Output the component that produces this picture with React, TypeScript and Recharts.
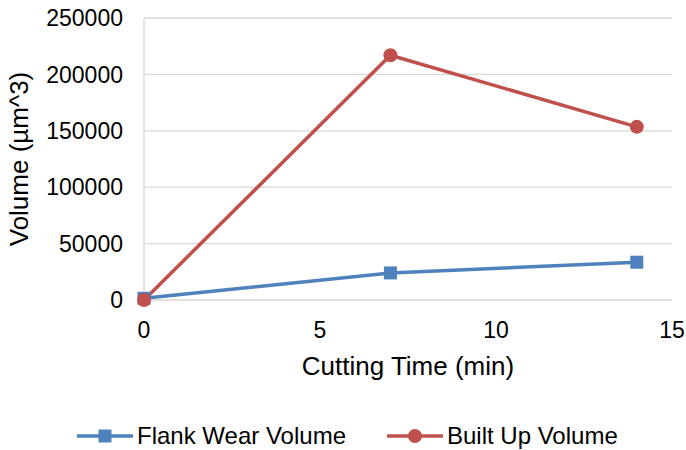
import React from "react"
import {
  CartesianGrid,
  Legend,
  Line,
  LineChart,
  XAxis,
  YAxis,
} from "recharts"

const cuttingTime = [0, 7, 14]
const flankWear = [1500, 24000, 33500]
const builtUp = [0, 217000, 153500]
const xTicks = [0, 5, 10, 15]
const yTicks = [0, 50000, 100000, 150000, 200000, 250000]

const BLUE = "#4F81BD"
const RED = "#C0504D"
const FONT = "'Liberation Sans', Arial, sans-serif"

const data = cuttingTime.map((t, i) => ({
  time: t,
  flank: flankWear[i],
  built: builtUp[i],
}))

const SquareDot = (props: any) => {
  const { cx, cy, key } = props
  if (cx == null || cy == null) return null
  return <rect key={key} x={cx - 6.5} y={cy - 6.5} width={13} height={13} fill={BLUE} />
}

const CircleDot = (props: any) => {
  const { cx, cy, key } = props
  if (cx == null || cy == null) return null
  return <circle key={key} cx={cx} cy={cy} r={7} fill={RED} />
}

function LegendItem({ color, label, square }: { color: string; label: string; square: boolean }) {
  return (
    <div style={{ display: "flex", alignItems: "center" }}>
      <svg width={56} height={16} style={{ marginRight: 4 }}>
        <line x1={0} y1={8} x2={56} y2={8} stroke={color} strokeWidth={3.5} />
        {square ? (
          <rect x={21.5} y={1.5} width={13} height={13} fill={color} />
        ) : (
          <circle cx={28} cy={8} r={7} fill={color} />
        )}
      </svg>
      <span>{label}</span>
    </div>
  )
}

const renderLegend = () => (
  <div
    style={{
      display: "flex",
      gap: 41,
      paddingLeft: 77,
      paddingTop: 42,
      fontFamily: FONT,
      fontSize: 24,
      color: "#000",
      lineHeight: "28px",
    }}
  >
    <LegendItem color={BLUE} label="Flank Wear Volume" square />
    <LegendItem color={RED} label="Built Up Volume" square={false} />
  </div>
)

export default function App() {
  return (
    <div style={{ position: "absolute", left: 0, top: 0, background: "#fff" }}>
      <LineChart
        width={686}
        height={450}
        data={data}
        margin={{ top: 18, right: 14, left: 0, bottom: 0 }}
      >
        <CartesianGrid vertical={false} stroke="#D9D9D9" strokeWidth={1.3} />
        <XAxis
          dataKey="time"
          type="number"
          domain={[0, 15]}
          ticks={xTicks}
          axisLine={false}
          tickLine={false}
          tickSize={0}
          tickMargin={22}
          height={80}
          tick={{ fill: "#000", fontSize: 23, fontFamily: FONT }}
          label={{
            value: "Cutting Time (min)",
            position: "insideBottom",
            offset: 5,
            fill: "#000",
            fontSize: 26,
            fontFamily: FONT,
          }}
        />
        <YAxis
          type="number"
          domain={[0, 250000]}
          ticks={yTicks}
          width={144}
          axisLine={{ stroke: "#D9D9D9", strokeWidth: 1.3 }}
          tickLine={false}
          tickSize={0}
          tickMargin={21}
          tick={{ fill: "#000", fontSize: 23, fontFamily: FONT }}
          label={{
            value: "Volume (µm^3)",
            angle: -90,
            position: "center",
            dx: -53,
            fill: "#000",
            fontSize: 26,
            fontFamily: FONT,
          }}
        />
        <Legend verticalAlign="bottom" height={70} content={renderLegend} />
        <Line
          dataKey="flank"
          name="Flank Wear Volume"
          stroke={BLUE}
          strokeWidth={3.5}
          dot={SquareDot}
          activeDot={false}
          isAnimationActive={false}
        />
        <Line
          dataKey="built"
          name="Built Up Volume"
          stroke={RED}
          strokeWidth={3.5}
          dot={CircleDot}
          activeDot={false}
          isAnimationActive={false}
        />
      </LineChart>
    </div>
  )
}
